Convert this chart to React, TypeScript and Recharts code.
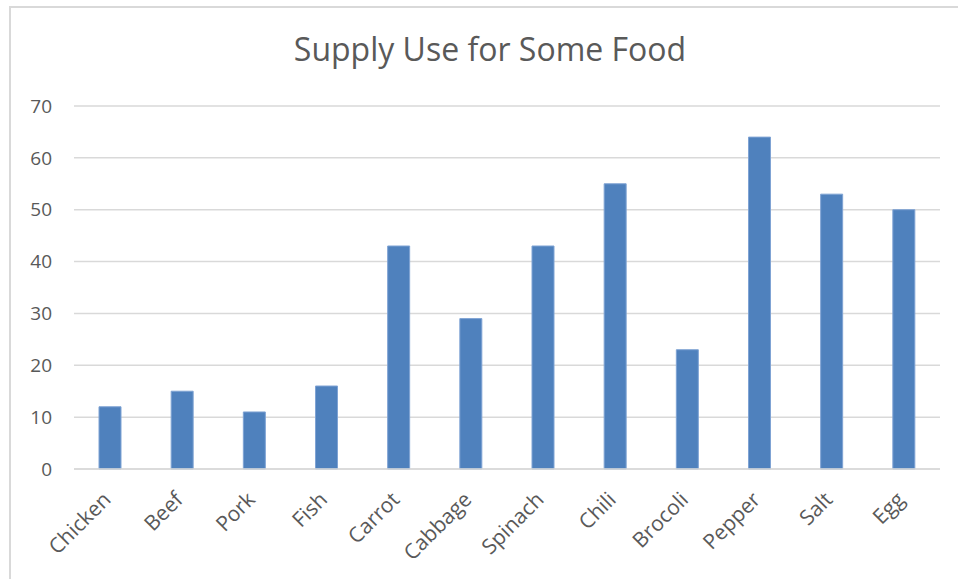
import React from 'react';
import { BarChart, Bar, XAxis, YAxis, CartesianGrid } from 'recharts';

// Values
const foods = ['Chicken', 'Beef', 'Pork', 'Fish', 'Carrot', 'Cabbage', 'Spinach', 'Chili', 'Brocoli', 'Pepper', 'Salt', 'Egg'];
const supplyUse = [12, 15, 11, 16, 43, 29, 43, 55, 23, 64, 53, 50];
const yTicks = [0, 10, 20, 30, 40, 50, 60, 70];

const chartData = foods.map((name, i) => ({ name, value: supplyUse[i] }));

const FONT = "'Open Sans', sans-serif";
const TEXT = '#595959';

const AngledTick = (props: any) => {
  const { x, y, payload } = props;
  const ax = x + 2;
  const ay = y + 24;
  return (
    <text
      x={ax}
      y={ay}
      transform={`rotate(-45, ${ax}, ${ay})`}
      textAnchor="end"
      fill={TEXT}
      fontSize={21}
      fontFamily={FONT}
    >
      {payload.value}
    </text>
  );
};

const App: React.FC = () => {
  return (
    <div style={{ position: 'absolute', left: 0, top: 0, width: 958, height: 579, overflow: 'hidden', background: '#fff' }}>
      {/* chart frame */}
      <div
        style={{
          position: 'absolute',
          left: 9,
          top: 6,
          width: 980,
          height: 600,
          border: '2px solid #d9d9d9',
          boxSizing: 'border-box',
        }}
      />
      <div
        style={{
          position: 'absolute',
          left: 9,
          width: 962,
          top: 25,
          textAlign: 'center',
          fontFamily: FONT,
          fontSize: 32,
          color: TEXT,
          lineHeight: '48px',
        }}
      >
        Supply Use for Some Food
      </div>
      <div style={{ position: 'absolute', left: 0, top: 0 }}>
        <BarChart
          width={958}
          height={579}
          data={chartData}
          margin={{ top: 106, right: 18, bottom: 0, left: 0 }}
          barSize={22}
        >
          <CartesianGrid vertical={false} stroke="#d9d9d9" strokeWidth={1.5} />
          <XAxis
            dataKey="name"
            interval={0}
            tickLine={false}
            axisLine={{ stroke: '#d9d9d9', strokeWidth: 1.5 }}
            tick={<AngledTick />}
            height={110}
          />
          <YAxis
            domain={[0, 70]}
            ticks={yTicks}
            width={74}
            tickLine={false}
            axisLine={false}
            tickSize={0}
            tickMargin={22}
            tick={{ fill: TEXT, fontSize: 19, fontFamily: FONT }}
          />
          <Bar dataKey="value" fill="#4f81bd" stroke="#7fa3d4" strokeWidth={1} isAnimationActive={false} />
        </BarChart>
      </div>
    </div>
  );
};

export default App;
